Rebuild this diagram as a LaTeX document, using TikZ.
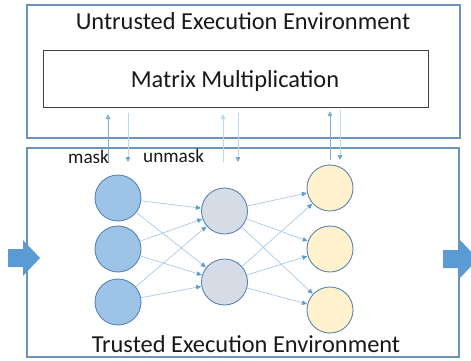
\documentclass[tikz,border=0pt]{standalone}
\usepackage{fontspec}
\setmainfont{Carlito}
\usetikzlibrary{arrows.meta}
\definecolor{frameblue}{HTML}{6D93BC}
\definecolor{arrowblue}{HTML}{5B9BD5}
\definecolor{lineblue}{HTML}{A9CBEA}
\definecolor{paleblue}{HTML}{BDD7EE}
\definecolor{nodeblue}{HTML}{9DC3E6}
\definecolor{nodegray}{HTML}{D6DCE5}
\definecolor{nodeyellow}{HTML}{FFF2CC}
\definecolor{nodeedge}{HTML}{5A83B0}
\tikzset{
  envbox/.style={draw=frameblue, line width=1.3pt},
  mmbox/.style={draw=black!75, line width=0.9pt, fill=white},
  neuron/.style={circle, draw=nodeedge, line width=0.9pt, minimum size=46pt, inner sep=0pt},
  link/.style={draw=lineblue, line width=0.7pt, -{Triangle[length=5pt,width=4.5pt,fill=arrowblue,color=arrowblue]}, shorten >=0.3pt},
  upflow/.style={draw=arrowblue!80, line width=0.9pt, -{Triangle[length=5pt,width=4.5pt]}},
  downflow/.style={draw=paleblue, line width=0.9pt, -{Triangle[length=5pt,width=4.5pt,color=arrowblue!90]}},
  bigarrow/.style={fill=arrowblue, draw=none},
  title/.style={inner sep=0pt, anchor=base, text=black!90, font=\fontsize{24.4}{28}\selectfont},
  lbl/.style={inner sep=0pt, anchor=base west, text=black!90, font=\fontsize{19.2}{22}\selectfont}
}
\begin{document}
\begin{tikzpicture}[x=1pt,y=-1pt]
\useasboundingbox (0,0) rectangle (471,360);
\fill[white] (0,0) rectangle (471,360);

% untrusted side
\draw[envbox] (27,5) rectangle (460,138);
\node[title] (utitle) at (243,29) {Untrusted Execution Environment};
\node[mmbox, minimum width=385pt, minimum height=57pt] (mm) at (235.5,78.5) {};
\node[title] (mmtext) at (235,87) {Matrix Multiplication};

% trusted side
\draw[envbox] (27,148) rectangle (459,357);
\node[title] (ttitle) at (246,352) {Trusted Execution Environment};

% data flow between the two environments
\coordinate (u1a) at (108,163); \coordinate (u1b) at (108,114);
\coordinate (d1a) at (128,113); \coordinate (d1b) at (128,162);
\coordinate (u2a) at (223,162); \coordinate (u2b) at (223,114);
\coordinate (d2a) at (238,113); \coordinate (d2b) at (238,162);
\coordinate (u3a) at (330,160); \coordinate (u3b) at (330,111);
\coordinate (d3a) at (340,110); \coordinate (d3b) at (340,160);
\draw[upflow] (u1a) -- (u1b);
\draw[downflow] (d1a) -- (d1b);
\draw[upflow, draw=paleblue] (u2a) -- (u2b);
\draw[downflow] (d2a) -- (d2b);
\draw[upflow] (u3a) -- (u3b);
\draw[downflow] (d3a) -- (d3b);
\node[lbl] (mask) at (68,163) {mask};
\node[lbl] (unmask) at (143,162) {unmask};

% network layers
\node[neuron, fill=nodeblue] (a1) at (118,198) {};
\node[neuron, fill=nodeblue] (a2) at (118,249) {};
\node[neuron, fill=nodeblue] (a3) at (118,302) {};
\node[neuron, fill=nodegray] (b1) at (224.5,211) {};
\node[neuron, fill=nodegray] (b2) at (224.5,282) {};
\node[neuron, fill=nodeyellow] (c1) at (330,188) {};
\node[neuron, fill=nodeyellow] (c2) at (330,249) {};
\node[neuron, fill=nodeyellow] (c3) at (330,310) {};

\foreach \s in {a1,a2,a3}
  \foreach \t in {b1,b2}
    \draw[link] (\s) -- (\t);
\foreach \s in {b1,b2}
  \foreach \t in {c1,c2,c3}
    \draw[link] (\s) -- (\t);

% input and output arrows
\fill[bigarrow] (8,249) -- (23,249) -- (23,240) -- (40,258) -- (23,276) -- (23,267) -- (8,267) -- cycle;
\fill[bigarrow] (443,250) -- (460,250) -- (460,240) -- (478,259) -- (460,278) -- (460,268) -- (443,268) -- cycle;
\end{tikzpicture}
\end{document}
